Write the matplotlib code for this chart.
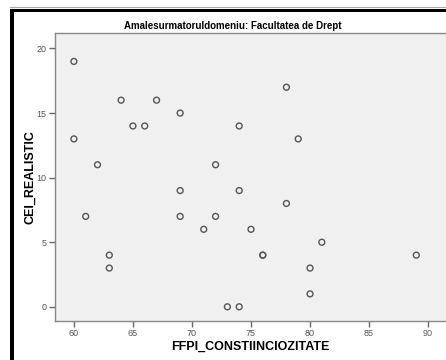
import matplotlib
matplotlib.use('Agg')
import matplotlib.pyplot as plt
from matplotlib.patches import Rectangle
from matplotlib.lines import Line2D

plt.rcParams['font.family'] = ['Liberation Sans', 'DejaVu Sans']

# FFPI_CONSTIINCIOZITATE vs CEI_REALISTIC
ffpi = [60, 60, 61, 62, 63, 63, 64, 65, 66, 67, 69, 69, 69, 71, 72, 72, 73,
        74, 74, 74, 75, 76, 76, 78, 78, 79, 80, 80, 81, 89]
cei = [19, 13, 7, 11, 4, 3, 16, 14, 14, 16, 15, 9, 7, 6, 11, 7, 0,
       14, 9, 0, 6, 4, 4, 17, 8, 13, 3, 1, 5, 4]
x_ticks = [60, 65, 70, 75, 80, 85, 90]
y_ticks = [0, 5, 10, 15, 20]

W, H = 446, 360
fig = plt.figure(figsize=(W / 100, H / 100), dpi=100)

def px(x0, y0, x1, y1):
    # pixel box (top-left origin) -> figure rect
    return [x0 / W, 1 - y1 / H, (x1 - x0) / W, (y1 - y0) / H]

ax = fig.add_axes(px(55, 33, 447, 321))
ax.set_facecolor('#f0f0f0')
ax.scatter(ffpi, cei, s=18, facecolors='none', edgecolors='#555555',
           linewidths=1.0, zorder=3)

ax.set_xlim(58.4, 91.6)
ax.set_ylim(-1.1, 21.2)
ax.set_xticks(x_ticks)
ax.set_yticks(y_ticks)
ax.tick_params(direction='out', length=4, width=1, color='#666666',
               labelsize=6.5, labelcolor='#555555', pad=2)
for side in ['left', 'bottom', 'top']:
    ax.spines[side].set_color('#888888')
    ax.spines[side].set_linewidth(1)
ax.spines['right'].set_visible(False)

ax.set_xlabel('FFPI_CONSTIINCIOZITATE', fontsize=9, fontweight='bold',
              va='center')
ax.set_ylabel('CEI_REALISTIC', fontsize=9, fontweight='bold', va='center')
ax.xaxis.set_label_coords((250 - 55) / 392, (321 - 347) / 288)
ax.yaxis.set_label_coords((30 - 55) / 392, 0.5)

fig.text(233 / W, 1 - 26 / H, 'Amalesurmatoruldomeniu: Facultatea de Drept',
         ha='center', va='center', fontsize=7, fontweight='bold')

# black frame of the chart window
fig.add_artist(Rectangle((10 / W, 0), 4 / W, 1 - 9 / H,
                         transform=fig.transFigure, color='black', lw=0))
fig.add_artist(Rectangle((10 / W, 1 - 12 / H), 1, 3.5 / H,
                         transform=fig.transFigure, color='black', lw=0))
fig.add_artist(Line2D([10 / W, 1], [1 - 7.3 / H, 1 - 7.3 / H],
                      transform=fig.transFigure, color='#aaaaaa', lw=0.8))

fig.savefig('out.png', dpi=100)
